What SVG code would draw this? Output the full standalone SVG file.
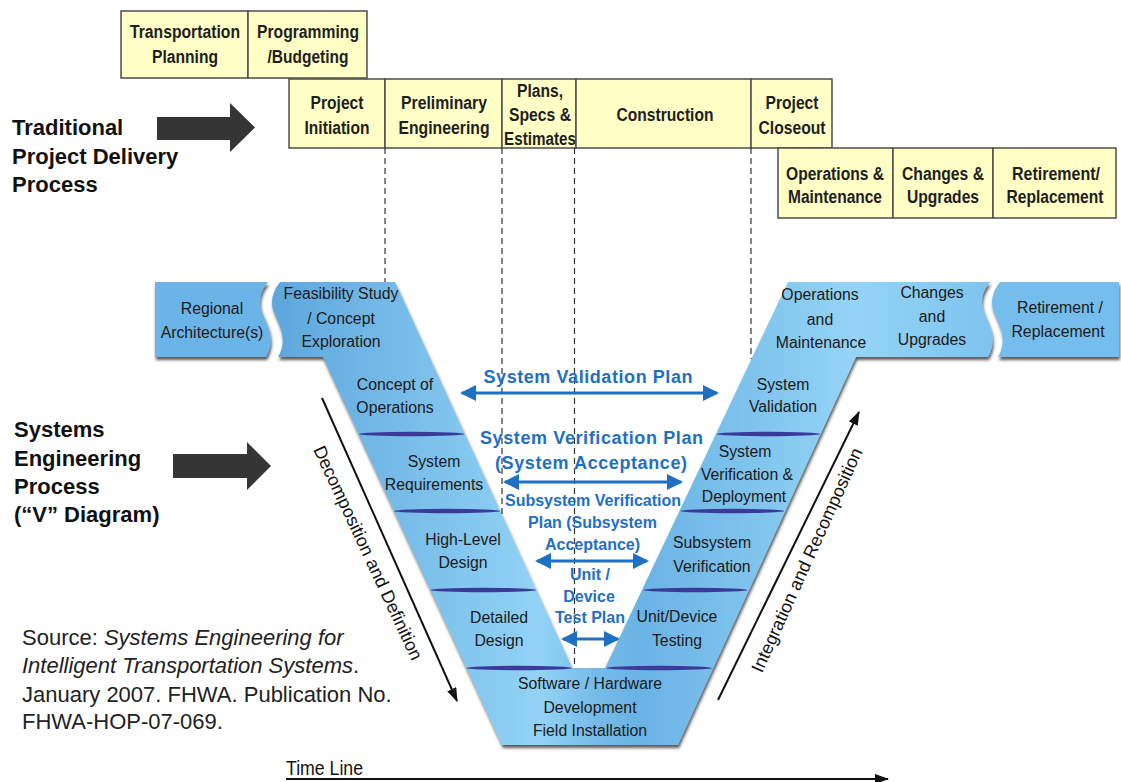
<svg xmlns="http://www.w3.org/2000/svg" width="1121" height="782" viewBox="0 0 1121 782">
<defs>
<style>
.box{fill:#ffffc6;stroke:#4d4d4d;stroke-width:1.5}
.bt{font-family:"Liberation Sans",sans-serif;font-weight:bold;font-size:18px;fill:#1e1e1e;text-anchor:middle}
.vt{font-family:"Liberation Sans",sans-serif;font-size:15.8px;fill:#1a1a1a;text-anchor:middle}
.lt{font-family:"Liberation Sans",sans-serif;font-weight:bold;font-size:22px;fill:#111}
.src{font-family:"Liberation Sans",sans-serif;font-size:22px;fill:#222}
.blue{font-family:"Liberation Sans",sans-serif;font-weight:bold;fill:#1f6fc3;text-anchor:middle}
.sep{fill:#3b3a9a}
.dash{stroke:#333;stroke-width:1.2;stroke-dasharray:6 4;fill:none}
.barr{stroke:#1f6fc3;stroke-width:3;fill:none;marker-start:url(#bh);marker-end:url(#bh)}
.karr{stroke:#111;stroke-width:2;fill:none;marker-end:url(#kh)}
.rot{font-family:"Liberation Sans",sans-serif;font-size:18px;fill:#111;text-anchor:middle}
</style>
<linearGradient id="vg" gradientUnits="userSpaceOnUse" x1="280" y1="0" x2="1000" y2="0">
<stop offset="0" stop-color="#5fa8de"/>
<stop offset="0.36" stop-color="#92d3f5"/>
<stop offset="0.44" stop-color="#76bbe8"/>
<stop offset="0.5" stop-color="#6ab3e5"/>
<stop offset="0.8" stop-color="#94d4f6"/>
<stop offset="1" stop-color="#7cc3ef"/>
</linearGradient>
<filter id="sh" x="-5%" y="-5%" width="110%" height="115%">
<feDropShadow dx="1" dy="3" stdDeviation="1.5" flood-color="#222" flood-opacity="0.75"/>
</filter>
<marker id="bh" viewBox="0 0 16 16" refX="14" refY="8" markerWidth="16" markerHeight="16" markerUnits="userSpaceOnUse" orient="auto-start-reverse">
<path d="M0,0 L16,8 L0,16 z" fill="#1f6fc3"/>
</marker>
<marker id="kh" viewBox="0 0 14 10" refX="13" refY="5" markerWidth="14" markerHeight="10" markerUnits="userSpaceOnUse" orient="auto">
<path d="M0,0 L14,5 L0,10 z" fill="#111"/>
</marker>
</defs>
<rect width="1121" height="782" fill="#ffffff"/>

<!-- V diagram shapes -->
<g id="v-shape" filter="url(#sh)">
<path d="M155,282 L268,282 C260,292 258,302 262,312 C268,326 276,340 266,357 L155,357 Z" fill="#6ab4e8"/>
<path d="M280,282 L395,282 L572,668 L605,668 L788,282 L990,282 C982,292 980,302 984,312 C990,326 998,340 988,357 L856,357 L678,745 L502,745 L323,357 L278,357 C288,340 280,326 274,312 C270,302 272,292 280,282 Z" fill="url(#vg)"/>
<path d="M1000,282 L1119,282 L1119,357 L998,357 C1008,340 1000,326 994,312 C990,302 992,292 1000,282 Z" fill="#74bdec"/>
</g>
<g id="separators">
<ellipse class="sep" cx="411.6" cy="434" rx="53" ry="2.2"/>
<ellipse class="sep" cx="447" cy="511" rx="53" ry="2.2"/>
<ellipse class="sep" cx="483.3" cy="590" rx="53" ry="2.2"/>
<ellipse class="sep" cx="519.2" cy="668" rx="53" ry="2.2"/>
<ellipse class="sep" cx="768.3" cy="434" rx="52" ry="2.2"/>
<ellipse class="sep" cx="732.4" cy="511" rx="52" ry="2.2"/>
<ellipse class="sep" cx="695.5" cy="590" rx="52" ry="2.2"/>
<ellipse class="sep" cx="659" cy="668" rx="53" ry="2.2"/>
</g>

<!-- Top boxes -->
<g id="transportation-planning"><rect class="box" x="121" y="11" width="127" height="67"/><text class="bt" x="185" y="38" textLength="110" lengthAdjust="spacingAndGlyphs">Transportation</text><text class="bt" x="185" y="63" textLength="66" lengthAdjust="spacingAndGlyphs">Planning</text></g>
<g id="programming-budgeting"><rect class="box" x="248" y="11" width="119" height="67"/><text class="bt" x="308" y="38" textLength="102" lengthAdjust="spacingAndGlyphs">Programming</text><text class="bt" x="308" y="63" textLength="81" lengthAdjust="spacingAndGlyphs">/Budgeting</text></g>
<g id="project-initiation"><rect class="box" x="289" y="79" width="96" height="69"/><text class="bt" x="337" y="109" textLength="53" lengthAdjust="spacingAndGlyphs">Project</text><text class="bt" x="337" y="134" textLength="65" lengthAdjust="spacingAndGlyphs">Initiation</text></g>
<g id="preliminary-engineering"><rect class="box" x="385" y="79" width="117" height="69"/><text class="bt" x="444" y="109" textLength="86" lengthAdjust="spacingAndGlyphs">Preliminary</text><text class="bt" x="444" y="134" textLength="91" lengthAdjust="spacingAndGlyphs">Engineering</text></g>
<g id="plans-specs-estimates"><rect class="box" x="502" y="79" width="74" height="69"/><text class="bt" x="540" y="97" textLength="46" lengthAdjust="spacingAndGlyphs">Plans,</text><text class="bt" x="540" y="121" textLength="62" lengthAdjust="spacingAndGlyphs">Specs &amp;</text><text class="bt" x="540" y="145" textLength="72" lengthAdjust="spacingAndGlyphs">Estimates</text></g>
<g id="construction"><rect class="box" x="576" y="79" width="175" height="69"/><text class="bt" x="665" y="121" textLength="97" lengthAdjust="spacingAndGlyphs">Construction</text></g>
<g id="project-closeout"><rect class="box" x="751" y="79" width="81" height="69"/><text class="bt" x="792" y="109" textLength="53" lengthAdjust="spacingAndGlyphs">Project</text><text class="bt" x="792" y="134" textLength="67" lengthAdjust="spacingAndGlyphs">Closeout</text></g>
<g id="operations-maintenance-box"><rect class="box" x="778" y="148" width="115" height="70"/><text class="bt" x="835" y="180" textLength="98" lengthAdjust="spacingAndGlyphs">Operations &amp;</text><text class="bt" x="835" y="203" textLength="94" lengthAdjust="spacingAndGlyphs">Maintenance</text></g>
<g id="changes-upgrades-box"><rect class="box" x="893" y="148" width="100" height="70"/><text class="bt" x="943" y="180" textLength="82" lengthAdjust="spacingAndGlyphs">Changes &amp;</text><text class="bt" x="943" y="203" textLength="72" lengthAdjust="spacingAndGlyphs">Upgrades</text></g>
<g id="retirement-replacement-box"><rect class="box" x="993" y="148" width="123" height="70"/><text class="bt" x="1056" y="180" textLength="88" lengthAdjust="spacingAndGlyphs">Retirement/</text><text class="bt" x="1055" y="203" textLength="97" lengthAdjust="spacingAndGlyphs">Replacement</text></g>

<!-- Left labels -->
<g id="traditional-label"><text class="lt" x="12" y="135">Traditional</text><text class="lt" x="12" y="164">Project Delivery</text><text class="lt" x="12" y="192">Process</text></g>
<g id="se-label"><text class="lt" x="14" y="437">Systems</text><text class="lt" x="14" y="466">Engineering</text><text class="lt" x="14" y="494">Process</text><text class="lt" x="14" y="522">(“V” Diagram)</text></g>
<g id="big-arrows" fill="#353535">
<polygon points="157,117 230,117 230,103 255,127.5 230,152 230,140 157,140"/>
<polygon points="173,454 247,454 247,442 271,466 247,490 247,478 173,478"/>
</g>

<!-- V stage labels -->
<g id="regional-architecture"><text class="vt" x="212" y="314">Regional</text><text class="vt" x="212" y="338">Architecture(s)</text></g>
<g id="feasibility-study"><text class="vt" x="341" y="299">Feasibility Study</text><text class="vt" x="341" y="324">/ Concept</text><text class="vt" x="341" y="347">Exploration</text></g>
<g id="concept-of-operations"><text class="vt" x="395" y="390">Concept of</text><text class="vt" x="395" y="413">Operations</text></g>
<g id="system-requirements"><text class="vt" x="434" y="467">System</text><text class="vt" x="434" y="490">Requirements</text></g>
<g id="high-level-design"><text class="vt" x="463" y="545">High-Level</text><text class="vt" x="463" y="568">Design</text></g>
<g id="detailed-design"><text class="vt" x="499" y="623">Detailed</text><text class="vt" x="499" y="646">Design</text></g>
<g id="software-hardware"><text class="vt" x="590" y="689">Software / Hardware</text><text class="vt" x="590" y="713">Development</text><text class="vt" x="590" y="736">Field Installation</text></g>
<g id="unit-device-testing"><text class="vt" x="677" y="622">Unit/Device</text><text class="vt" x="677" y="646">Testing</text></g>
<g id="subsystem-verification"><text class="vt" x="712" y="548">Subsystem</text><text class="vt" x="712" y="572">Verification</text></g>
<g id="system-verification-deployment"><text class="vt" x="745" y="457">System</text><text class="vt" x="747" y="480">Verification &amp;</text><text class="vt" x="744" y="502">Deployment</text></g>
<g id="system-validation"><text class="vt" x="783" y="390">System</text><text class="vt" x="783" y="412">Validation</text></g>
<g id="operations-maintenance"><text class="vt" x="820" y="300">Operations</text><text class="vt" x="820" y="325">and</text><text class="vt" x="821" y="348">Maintenance</text></g>
<g id="changes-upgrades"><text class="vt" x="932" y="298">Changes</text><text class="vt" x="932" y="322">and</text><text class="vt" x="932" y="345">Upgrades</text></g>
<g id="retirement-replacement"><text class="vt" x="1060" y="313">Retirement /</text><text class="vt" x="1058" y="337">Replacement</text></g>

<!-- Connectors -->
<g id="connectors">
<line class="dash" x1="385" y1="148" x2="385" y2="282"/>
<line class="dash" x1="502" y1="148" x2="502" y2="515"/>
<line class="dash" x1="574.5" y1="148" x2="574.5" y2="668"/>
<line class="dash" x1="751" y1="148" x2="751" y2="359"/>
<line class="barr" x1="462" y1="393" x2="717" y2="393"/>
<line class="barr" x1="505" y1="482" x2="681" y2="482"/>
<line class="barr" x1="537" y1="561" x2="647" y2="561"/>
<line class="barr" x1="563" y1="639" x2="618" y2="639"/>
<line class="karr" x1="322" y1="398" x2="457" y2="701"/>
<line class="karr" x1="718" y1="700" x2="859" y2="412"/>
<line class="karr" x1="286" y1="779" x2="888" y2="779"/>
</g>

<!-- Plan labels -->
<g id="system-validation-plan"><text class="blue" font-size="18" x="588" y="383" textLength="209">System Validation Plan</text></g>
<g id="system-verification-plan"><text class="blue" font-size="18" x="591.5" y="444" textLength="223">System Verification Plan</text><text class="blue" font-size="18" x="591" y="469" textLength="192">(System Acceptance)</text></g>
<g id="subsystem-verification-plan"><text class="blue" font-size="16" x="593" y="506">Subsystem Verification</text><text class="blue" font-size="16" x="592.5" y="528">Plan (Subsystem</text><text class="blue" font-size="16" x="592.5" y="550">Acceptance)</text></g>
<g id="unit-device-test-plan"><text class="blue" font-size="16" x="590" y="580">Unit /</text><text class="blue" font-size="16" x="589" y="602">Device</text><text class="blue" font-size="16" x="590" y="623">Test Plan</text></g>

<!-- Rotated labels -->
<g id="decomposition-label"><text class="rot" transform="translate(368,553) rotate(65)" y="6">Decomposition and Definition</text></g>
<g id="integration-label"><text class="rot" transform="translate(807,560) rotate(-65.6)" y="6">Integration and Recomposition</text></g>
<g id="timeline-label"><text font-family="Liberation Sans, sans-serif" font-size="20" fill="#111" x="286" y="775" textLength="77" lengthAdjust="spacingAndGlyphs">Time Line</text></g>

<!-- Source -->
<g id="source">
<text class="src" x="22" y="645">Source: <tspan font-style="italic">Systems Engineering for</tspan></text>
<text class="src" x="22" y="673"><tspan font-style="italic">Intelligent Transportation Systems</tspan>.</text>
<text class="src" x="22" y="702">January 2007. FHWA. Publication No.</text>
<text class="src" x="22" y="729">FHWA-HOP-07-069.</text>
</g>
</svg>
